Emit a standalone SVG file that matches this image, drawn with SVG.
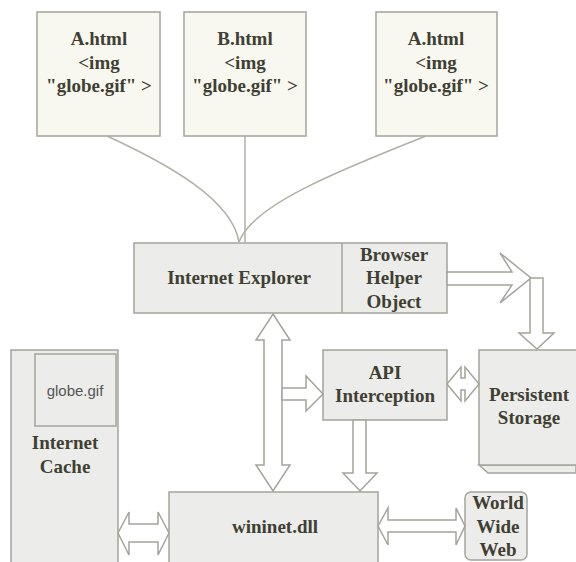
<svg xmlns="http://www.w3.org/2000/svg" width="576" height="562" viewBox="0 0 576 562">
<style>
.page{fill:#f8f8f1;stroke:#a4a49c;stroke-width:1.5}
.box{fill:#ececea;stroke:#a4a49c;stroke-width:1.5}
.t{font-family:"Liberation Serif","Times New Roman",serif;font-weight:bold;font-size:19px;fill:#3f3f33;text-anchor:middle}
.s{font-family:"Liberation Sans",Arial,sans-serif;font-size:15px;fill:#555;text-anchor:middle}
.ln{fill:none;stroke:#b0b0a6;stroke-width:1.5}
.ar{fill:#ffffff;stroke:#a4a49c;stroke-width:1.5;stroke-linejoin:miter}
</style>
<rect width="576" height="562" fill="#ffffff"/>
<g id="page1">
<rect class="page" x="37" y="12" width="123" height="124"/>
<text class="t" x="99" y="45">A.html</text>
<text class="t" x="99" y="69">&lt;img</text>
<text class="t" x="99" y="92">"globe.gif" &gt;</text>
</g>
<g id="page2">
<rect class="page" x="184" y="12" width="122" height="124"/>
<text class="t" x="245" y="45">B.html</text>
<text class="t" x="245" y="69">&lt;img</text>
<text class="t" x="245" y="92">"globe.gif" &gt;</text>
</g>
<g id="page3">
<rect class="page" x="376" y="12" width="121" height="124"/>
<text class="t" x="436" y="45">A.html</text>
<text class="t" x="436" y="69">&lt;img</text>
<text class="t" x="436" y="92">"globe.gif" &gt;</text>
</g>
<g id="ie">
<rect class="box" x="134" y="243" width="313" height="70"/>
<line x1="342" y1="243" x2="342" y2="313" stroke="#a4a49c" stroke-width="1.5"/>
<text class="t" x="239" y="284">Internet Explorer</text>
</g>
<g id="bho">
<text class="t" x="394" y="261">Browser</text>
<text class="t" x="394" y="284">Helper</text>
<text class="t" x="394" y="308">Object</text>
</g>
<g id="api">
<rect class="box" x="323" y="350" width="124" height="70"/>
<text class="t" x="385" y="379">API</text>
<text class="t" x="385" y="402">Interception</text>
</g>
<g id="storage">
<path class="box" d="M479,465 L488,473 L576,473 L576,465 Z"/>
<rect class="box" x="479" y="350" width="98" height="115"/>
<text class="t" x="529" y="401">Persistent</text>
<text class="t" x="529" y="424">Storage</text>
</g>
<g id="cache">
<rect class="box" x="11" y="350" width="107" height="214"/>
<rect class="box" x="35" y="354" width="81" height="72"/>
<text class="s" x="75" y="396">globe.gif</text>
<text class="t" x="65" y="449">Internet</text>
<text class="t" x="65" y="473">Cache</text>
</g>
<g id="wininet">
<rect class="box" x="169" y="492" width="209" height="72"/>
<text class="t" x="275" y="533">wininet.dll</text>
</g>
<g id="www">
<rect class="box" x="465" y="492" width="62" height="68" rx="6"/>
<text class="t" x="498" y="509">World</text>
<text class="t" x="498" y="533">Wide</text>
<text class="t" x="498" y="556">Web</text>
</g>
<g id="connectors">
<path class="ln" d="M107,136 C170,165 232,200 239,242"/>
<path class="ln" d="M245,136 L245,242"/>
<path class="ln" d="M426,136 C340,170 252,205 239,242"/>
<polygon class="ar" points="447,272 512,272 500,253 531,278 500,303 512,285 447,285"/>
<polygon class="ar" points="530,278 543,278 543,333 554,333 537,349 519,333 530,333"/>
<polygon class="ar" points="273,314 290,340 282,340 282,465 290,465 273,491 256,465 264,465 264,340 256,340"/>
<polygon class="ar" points="282,388 306,388 306,376 323,394 306,411 306,400 282,400"/>
<polygon class="ar" points="353,420 366,420 366,473 377,473 360,491 343,473 353,473"/>
<polygon class="ar" points="447,384 461,367 461,378 465,378 465,367 479,384 465,401 465,390 461,390 461,401"/>
<polygon class="ar" points="118,533 129,512 129,524 158,524 158,512 169,533 158,555 158,542 129,542 129,555"/>
<polygon class="ar" points="378,526 388,508 388,520 456,520 456,508 465,526 456,545 456,532 388,532 388,545"/>
</g>
</svg>
